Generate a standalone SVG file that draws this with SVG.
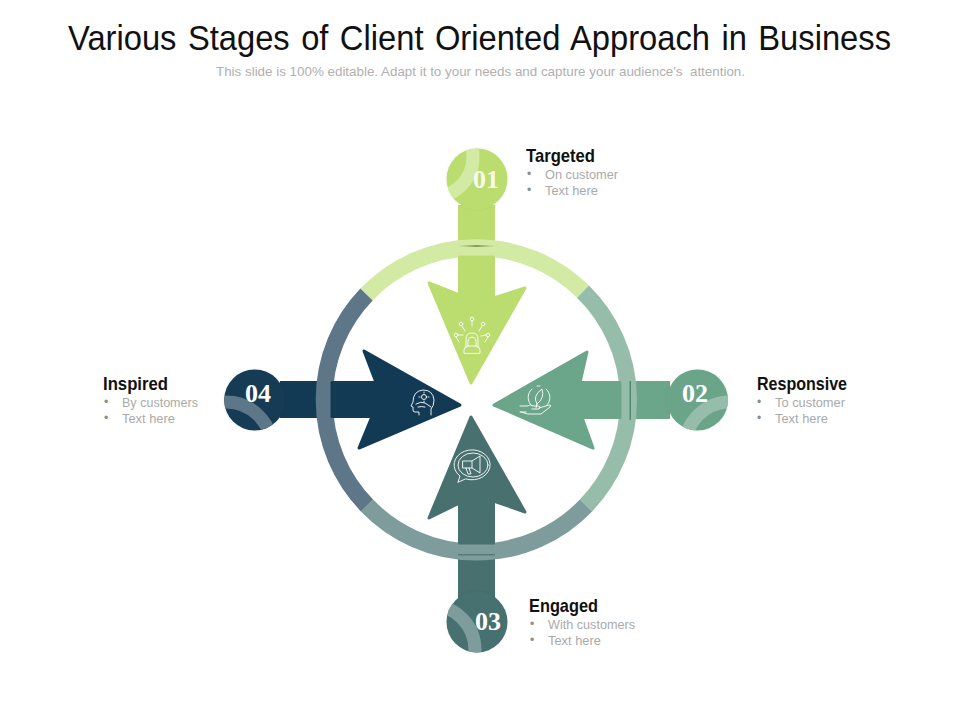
<svg xmlns="http://www.w3.org/2000/svg" width="960" height="720" viewBox="0 0 960 720">
<style>
.title{font-family:"Liberation Sans",Arial,sans-serif;font-size:35px;fill:#111;word-spacing:2.500px}
.sub{font-family:"Liberation Sans",Arial,sans-serif;font-size:13px;fill:#b0b0b0}
.head{font-family:"Liberation Sans",Arial,sans-serif;font-size:19px;font-weight:bold;fill:#111}
.body{font-family:"Liberation Sans",Arial,sans-serif;font-size:12.500px;fill:#aaa}
.bul{font-family:"Liberation Sans",Arial,sans-serif;font-size:12px;fill:#8c8c8c}
.num{font-family:"Liberation Serif","DejaVu Serif",serif;font-size:26px;font-weight:bold;fill:#fff;text-anchor:middle}
.ring{fill:none;stroke-width:17}
.ico{fill:none;stroke:#fff;stroke-width:.9;stroke-linecap:round;stroke-linejoin:round}
.c1{fill:#bbdd6f}.c2{fill:#6ba58a}.c3{fill:#47706f}.c4{fill:#133a55}
</style>
<defs>
<filter id="glow" x="-30%" y="-30%" width="160%" height="160%"><feDropShadow dx="0" dy="0" stdDeviation="1.500" flood-color="#000" flood-opacity="0.08"/></filter>
<clipPath id="cp1"><circle cx="477" cy="179" r="30.5"/></clipPath>
<clipPath id="cp2"><circle cx="697.5" cy="400" r="30.5"/></clipPath>
<clipPath id="cp3"><circle cx="477" cy="622" r="30.5"/></clipPath>
<clipPath id="cp4"><circle cx="254.7" cy="400" r="30.5"/></clipPath>
<linearGradient id="sh1" x1="0" y1="0" x2="1" y2="0"><stop offset="0" stop-color="#7f9a4c" stop-opacity="0"/><stop offset=".5" stop-color="#6f8a40" stop-opacity="0.8"/><stop offset="1" stop-color="#7f9a4c" stop-opacity="0"/></linearGradient>
</defs>
<text class="title" x="479.500" y="50" text-anchor="middle" textLength="823" lengthAdjust="spacingAndGlyphs">Various Stages of Client Oriented Approach in Business</text>
<text class="sub" x="480.500" y="76" text-anchor="middle" textLength="529" lengthAdjust="spacingAndGlyphs" xml:space="preserve">This slide is 100% editable. Adapt it to your needs and capture your audience's  attention.</text>
<g id="connectors">
<path id="arrow-top-shaft" class="c1" d="M458 205H495V246H458Z"/>
<path id="arrow-right-shaft" class="c2" d="M630 381H670V419H630Z"/>
<path id="arrow-bottom-shaft" class="c3" d="M458 554H495V600H458Z"/>
<path id="arrow-left-shaft" class="c4" d="M280 381H323V418H280Z"/>
</g>
<g id="ring">
<path class="ring" stroke="#d3eaa5" d="M366.500 294.500A152 152 0 0 1 583 291.600"/>
<path class="ring" stroke="#96bda9" d="M583 291.600A152 152 0 0 1 586 505.500"/>
<path class="ring" stroke="#7e9c9c" d="M586 505.500A152 152 0 0 1 367 505.500"/>
<path class="ring" stroke="#5d7688" d="M367 505.500A152 152 0 0 1 366.500 294.500"/>
</g>
<g id="arrows">
<path class="c1" stroke="#bbdd6f" stroke-width="3" stroke-linejoin="round" d="M459.500 257H493.500V298L525 288L471 383L429 283L459.500 295Z"/>
<path class="c2" stroke="#6ba58a" stroke-width="3" stroke-linejoin="round" d="M620 382.500V417.500H582L593 448L494 405L587 352L580 382.500Z"/>
<path class="c3" stroke="#47706f" stroke-width="3" stroke-linejoin="round" d="M459.500 543H493.500V501L525 512L471 417L429 518L459.500 503Z"/>
<path class="c4" stroke="#133a55" stroke-width="3" stroke-linejoin="round" d="M332 382.500H376L364 351L460 405L359 448L372 416.500H332Z"/>
<rect x="458" y="245" width="37" height="2" fill="url(#sh1)"/>
<rect x="458" y="554" width="37" height="1.500" fill="#33575a" opacity="0.5"/>
<rect x="629.500" y="381" width="1.500" height="39" fill="#4f8a70"/>
</g>
<g id="node-01">
<circle class="c1" cx="477" cy="179" r="30.500" filter="url(#glow)"/>
<circle clip-path="url(#cp1)" cx="433" cy="157" r="40" fill="none" stroke="#d3eaa5" stroke-width="13"/>
<text class="num" x="486" y="188" fill-opacity=".9">01</text>
<g class="ico"><circle cx="472" cy="319" r="1.800"/><circle cx="461" cy="324" r="1.800"/><circle cx="483" cy="324" r="1.800"/><circle cx="456" cy="335" r="1.800"/><circle cx="488" cy="335" r="1.800"/><path d="M472 321v5M462 326l3 5M482 326l-3 5M458 335h5M486 335l-5 1M456 337l3 5M488 337l-3 5"/><path d="M466 347v-8q0-6 6-6t6 6v8M468 346q-1-9 4-9t4 9M464 353v-3q0-3 4-4h8q4 1 4 4v3z"/></g>
</g>
<g id="node-02">
<circle class="c2" cx="697.500" cy="400" r="30.500" filter="url(#glow)"/>
<circle clip-path="url(#cp2)" cx="730" cy="447" r="45" fill="none" stroke="#96bda9" stroke-width="13"/>
<text class="num" x="695" y="402">02</text>
<g class="ico"><path d="M532 389a11 11 0 0 0 0 17M546 389a11 11 0 0 1 0 17M537 386h3"/><path d="M537 404q-5-8 5-15q3 9-5 15zM537 404l-1 4"/><path d="M520 406h7q3-2 7 0h5q2 1 0 3h-7M539 408l10-3q3 0 1 2l-9 7h-13l-7-2M520 412h6"/></g>
</g>
<g id="node-03">
<circle class="c3" cx="477" cy="622" r="30.500" filter="url(#glow)"/>
<circle clip-path="url(#cp3)" cx="430" cy="650" r="45" fill="none" stroke="#7e9c9c" stroke-width="13"/>
<text class="num" x="488" y="630">03</text>
<g class="ico"><path d="M458 482l2-6a18 15 0 1 1 6 3z"/><ellipse cx="473" cy="465" rx="15" ry="12"/><path d="M463 461h9v7h-9zM472 461l8-5v17l-8-5M466 468l2 6h3l-2-6"/></g>
</g>
<g id="node-04">
<circle class="c4" cx="254.700" cy="400" r="30.500" filter="url(#glow)"/>
<circle clip-path="url(#cp4)" cx="226" cy="448" r="46" fill="none" stroke="#5d7688" stroke-width="13"/>
<text class="num" x="258" y="402">04</text>
<g class="ico"><path d="M419 415v-3h-4q-2 0-2-2v-3l-2-1l2-4q0-11 10-12q10 0 11 10q0 6-3 9v6"/><circle cx="424" cy="397" r="2.500"/><path d="M424 392v1M424 401v1M419 397h1M428 397h1M416 404q5-3 9-1l6 4M418 407q4-1 7 0"/></g>
</g>
<g id="label-01"><text class="head" x="526" y="162" textLength="69" lengthAdjust="spacingAndGlyphs">Targeted</text><text class="bul" x="527" y="178">•</text><text class="body" x="545" y="178.500" textLength="73" lengthAdjust="spacingAndGlyphs">On customer</text><text class="bul" x="527" y="194">•</text><text class="body" x="545" y="194.500" textLength="53" lengthAdjust="spacingAndGlyphs">Text here</text></g>
<g id="label-02"><text class="head" x="757" y="390" textLength="90" lengthAdjust="spacingAndGlyphs">Responsive</text><text class="bul" x="757" y="406">•</text><text class="body" x="775" y="407" textLength="70" lengthAdjust="spacingAndGlyphs">To customer</text><text class="bul" x="757" y="422">•</text><text class="body" x="775" y="423" textLength="53" lengthAdjust="spacingAndGlyphs">Text here</text></g>
<g id="label-03"><text class="head" x="529" y="612" textLength="69" lengthAdjust="spacingAndGlyphs">Engaged</text><text class="bul" x="530" y="628">•</text><text class="body" x="548" y="629" textLength="87" lengthAdjust="spacingAndGlyphs">With customers</text><text class="bul" x="530" y="644">•</text><text class="body" x="548" y="645" textLength="53" lengthAdjust="spacingAndGlyphs">Text here</text></g>
<g id="label-04"><text class="head" x="103" y="390" textLength="65" lengthAdjust="spacingAndGlyphs">Inspired</text><text class="bul" x="104" y="406">•</text><text class="body" x="122" y="407" textLength="76" lengthAdjust="spacingAndGlyphs">By customers</text><text class="bul" x="104" y="422">•</text><text class="body" x="122" y="423" textLength="53" lengthAdjust="spacingAndGlyphs">Text here</text></g>
</svg>
